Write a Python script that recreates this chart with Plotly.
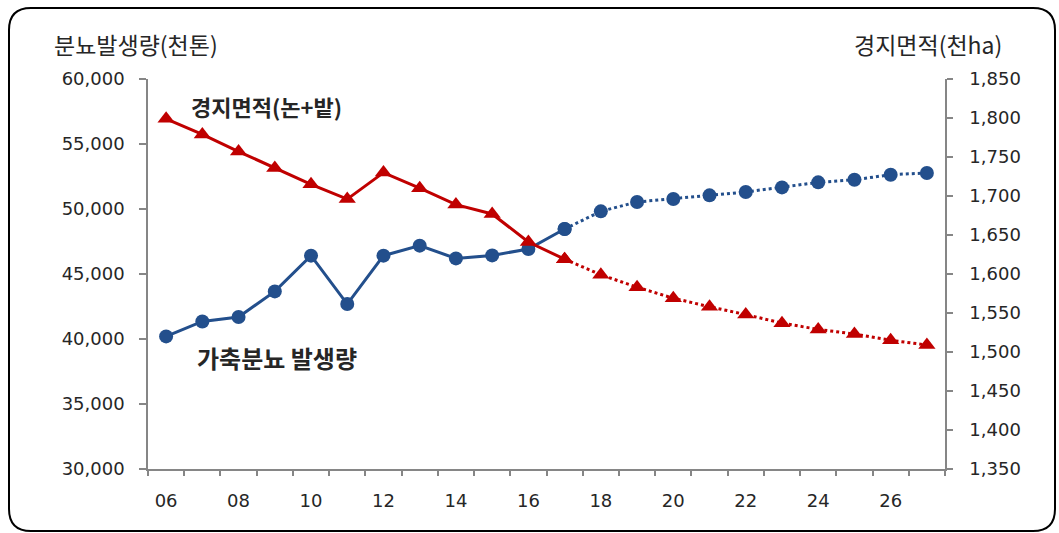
import plotly.graph_objects as go

# Year labels (2006-2027, two-digit)
years = ["06", "07", "08", "09", "10", "11", "12", "13", "14", "15", "16",
         "17", "18", "19", "20", "21", "22", "23", "24", "25", "26", "27"]

# Livestock manure generation (thousand tons), left axis
manure = [40200, 41350, 41690, 43660, 46410, 42690, 46410, 47180, 46200, 46430, 46920,
          48460, 49820, 50540, 50770, 51050, 51310, 51660, 52050, 52250, 52640, 52770]

# Cultivated area, paddy + field (thousand ha), right axis
area = [1799, 1779, 1757, 1736, 1715, 1696, 1730, 1710, 1689, 1677, 1641,
        1619, 1599, 1583, 1569, 1558, 1548, 1537, 1529, 1523, 1515, 1509]

# Index of the last actual year; values after it are projections
last_actual = years.index("17")

left_ticks = [30000, 35000, 40000, 45000, 50000, 55000, 60000]
right_ticks = [1350, 1400, 1450, 1500, 1550, 1600, 1650, 1700, 1750, 1800, 1850]
label_years = years[0:21:2]

BLUE = "#234F8C"
RED = "#C00000"
AXIS = "#868686"
TEXT = "#262626"
NUM_FONT = "DejaVu Sans"
KR_FONT = "Noto Sans CJK KR"

idx = list(range(len(years)))
act = idx[:last_actual + 1]
proj = idx[last_actual:]

fig = go.Figure()

fig.add_trace(go.Scatter(
    x=act, y=manure[:last_actual + 1], mode="lines+markers",
    line=dict(color=BLUE, width=3),
    marker=dict(symbol="circle", size=14, color=BLUE),
    yaxis="y", showlegend=False, hoverinfo="skip"))
fig.add_trace(go.Scatter(
    x=proj, y=manure[last_actual:], mode="lines+markers",
    line=dict(color=BLUE, width=3, dash="dot"),
    marker=dict(symbol="circle", size=14, color=BLUE),
    yaxis="y", showlegend=False, hoverinfo="skip"))
fig.add_trace(go.Scatter(
    x=act, y=area[:last_actual + 1], mode="lines+markers",
    line=dict(color=RED, width=3),
    marker=dict(symbol="triangle-up", size=15, color=RED),
    yaxis="y2", showlegend=False, hoverinfo="skip"))
fig.add_trace(go.Scatter(
    x=proj, y=area[last_actual:], mode="lines+markers",
    line=dict(color=RED, width=3, dash="dot"),
    marker=dict(symbol="triangle-up", size=15, color=RED),
    yaxis="y2", showlegend=False, hoverinfo="skip"))

# Invisible trace to carry the boundary tick axis
fig.add_trace(go.Scatter(x=[-0.5, len(years) - 0.5], y=[None, None], xaxis="x2",
                         showlegend=False, hoverinfo="skip"))

xr = [-0.5, len(years) - 0.5]

fig.update_layout(
    width=1059, height=533,
    margin=dict(l=148, r=114, t=79, b=64),
    paper_bgcolor="white", plot_bgcolor="white",
    xaxis=dict(
        range=xr, tickmode="array",
        tickvals=[years.index(y) for y in label_years], ticktext=label_years,
        ticks="", showline=True, linecolor=AXIS, linewidth=1.5,
        showgrid=False, zeroline=False,
        tickfont=dict(family=NUM_FONT, size=18, color=TEXT),
        ticklabelstandoff=15),
    xaxis2=dict(
        range=xr, overlaying="x", side="bottom", anchor="y",
        tickmode="linear", tick0=-0.5, dtick=1,
        ticks="outside", ticklen=6, tickcolor=AXIS, tickwidth=1.5,
        showticklabels=False, showgrid=False, zeroline=False, showline=False),
    yaxis=dict(
        range=[30000, 60000], tickmode="array", tickvals=left_ticks,
        ticktext=[f"{v:,}" for v in left_ticks],
        ticks="outside", ticklen=7, tickcolor=AXIS, tickwidth=1.5,
        showline=True, linecolor=AXIS, linewidth=1.5,
        showgrid=False, zeroline=False, ticklabelstandoff=11,
        tickfont=dict(family=NUM_FONT, size=18, color=TEXT)),
    yaxis2=dict(
        range=[1350, 1850], overlaying="y", side="right",
        tickmode="array", tickvals=right_ticks,
        ticktext=[f"{v:,}" for v in right_ticks],
        ticks="outside", ticklen=6, tickcolor=AXIS, tickwidth=1.5,
        showline=True, linecolor=AXIS, linewidth=1.5,
        showgrid=False, zeroline=False, ticklabelstandoff=13,
        tickfont=dict(family=NUM_FONT, size=18, color=TEXT)),
    font=dict(family=KR_FONT, color=TEXT),
)

# Axis titles
fig.add_annotation(text="분뇨발생량(천톤)", xref="paper", yref="paper",
                   x=-0.12, y=1.09, xanchor="left", yanchor="middle", showarrow=False,
                   font=dict(family=KR_FONT, size=23, color=TEXT))
fig.add_annotation(text="경지면적(천ha)", xref="paper", yref="paper",
                   x=1.0745, y=1.09, xanchor="right", yanchor="middle", showarrow=False,
                   font=dict(family=KR_FONT, size=23, color=TEXT))

# Series labels
fig.add_annotation(text="<b>경지면적(논+밭)</b>", xref="x", yref="y",
                   x=0.62, y=57900, xanchor="left", yanchor="middle", showarrow=False,
                   font=dict(family=KR_FONT, size=22, color=TEXT))
fig.add_annotation(text="<b>가축분뇨 발생량</b>", xref="x", yref="y",
                   x=0.8, y=38550, xanchor="left", yanchor="middle", showarrow=False,
                   font=dict(family=KR_FONT, size=24, color=TEXT))

# Rounded frame around the whole chart, defined in pixels and mapped to paper units
px_l, px_r, px_t, px_b = 148, 945, 79, 469
def P(px, py):
    a, b = (px - px_l) / (px_r - px_l), (px_b - py) / (px_b - px_t)
    return f"{a:.5f},{b:.5f}"

x0, y0, x1, y1, rad = 9, 8, 1055, 531, 22
path = (f"M {P(x0 + rad, y0)} L {P(x1 - rad, y0)} Q {P(x1, y0)} {P(x1, y0 + rad)} "
        f"L {P(x1, y1 - rad)} Q {P(x1, y1)} {P(x1 - rad, y1)} "
        f"L {P(x0 + rad, y1)} Q {P(x0, y1)} {P(x0, y1 - rad)} "
        f"L {P(x0, y0 + rad)} Q {P(x0, y0)} {P(x0 + rad, y0)} Z")
fig.add_shape(type="path", path=path, xref="paper", yref="paper",
              line=dict(color="black", width=2), fillcolor="rgba(0,0,0,0)", layer="above")

fig.write_html("out.html")
